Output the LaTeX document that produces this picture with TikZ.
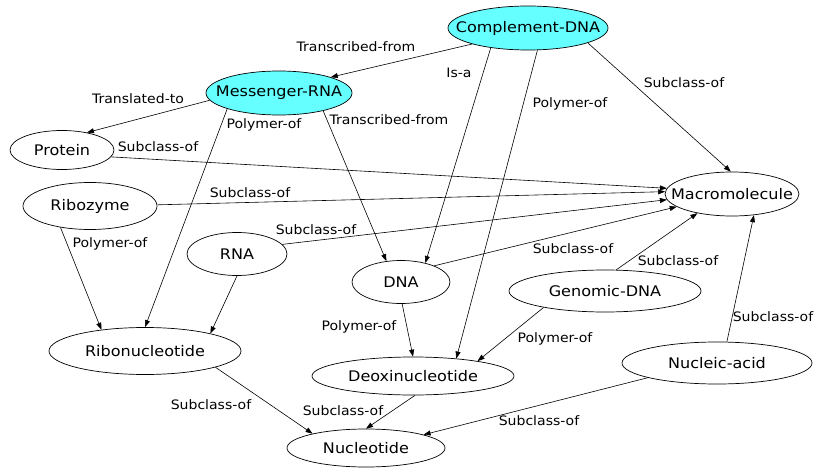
\documentclass[tikz,border=0pt]{standalone}
\usepackage{fontspec}
\setmainfont{DejaVu Sans}
\newfontfamily\conceptfont[FakeStretch=1.1]{DejaVu Sans}
\newfontfamily\relfont[FakeStretch=1.08]{DejaVu Sans}
\usepackage{xcolor}
\usetikzlibrary{arrows.meta}
\usetikzlibrary{shapes.geometric}
\definecolor{mycyan}{RGB}{102,255,255}
% text of a concept takes no width, so the ellipse keeps its given size
\newcommand{\cname}[1]{\makebox[0pt]{#1}}

\begin{document}
\begin{tikzpicture}[x=1pt, y=-1pt,
  concept/.style={draw, ellipse, line width=0.7pt, inner sep=0pt, font=\conceptfont\fontsize{14.6}{18}\selectfont},
  seed/.style={concept, fill=mycyan},
  rel/.style={line width=0.6pt, -{Triangle[length=7pt,width=5pt]}},
  lbl/.style={inner sep=0pt, font=\relfont\fontsize{13}{16}\selectfont}]
\useasboundingbox (0,0) rectangle (814,468);

% concepts
\node[seed, minimum width=160, minimum height=44] (cdna) at (528,28) {\cname{Complement-DNA}};
\node[seed, minimum width=146, minimum height=44] (mrna) at (279,93) {\cname{Messenger-RNA}};
\node[concept, minimum width=104, minimum height=39] (protein) at (62,150) {\cname{Protein}};
\node[concept, minimum width=134, minimum height=47] (ribozyme) at (90,206) {\cname{Ribozyme}};
\node[concept, minimum width=134, minimum height=44] (macro) at (732,194) {\cname{Macromolecule}};
\node[concept, minimum width=100, minimum height=43] (rna) at (237,254) {\cname{RNA}};
\node[concept, minimum width=98, minimum height=43] (dna) at (401,282) {\cname{DNA}};
\node[concept, minimum width=192, minimum height=42] (gdna) at (605,291) {\cname{Genomic-DNA}};
\node[concept, minimum width=192, minimum height=47] (ribonuc) at (145,351) {\cname{Ribonucleotide}};
\node[concept, minimum width=202, minimum height=38] (deoxnuc) at (413,376) {\cname{Deoxinucleotide}};
\node[concept, minimum width=190, minimum height=42] (nacid) at (717,363) {\cname{Nucleic-acid}};
\node[concept, minimum width=158, minimum height=38] (nucleotide) at (366,448) {\cname{Nucleotide}};

% relations
\foreach \a/\s/\b/\e in {cdna/196/mrna/17, cdna/208/dna/38, cdna/293/deoxnuc/22,
    cdna/346/macro/93, mrna/186/protein/35, mrna/197/ribonuc/90, mrna/338/dna/125,
    protein/352/macro/175, ribozyme/1/macro/178, ribozyme/216/ribonuc/154,
    rna/12/macro/185, rna/270/ribonuc/15, dna/26/macro/193, dna/273/deoxnuc/90,
    gdna/62/macro/209, gdna/195/deoxnuc/13, nacid/65/macro/316,
    nacid/192/nucleotide/13, ribonuc/347/nucleotide/165, deoxnuc/276/nucleotide/90}{
\draw[rel] (\a.\s) -- (\b.\e);
}

% relation labels
\foreach \n/\x/\y/\t in {tfrom1/356/47/Transcribed-from, isa/459/73/Is-a,
    polyof1/570/104/Polymer-of, subof1/684/83/Subclass-of,
    transto/138/99/Translated-to, polyof2/264/125/Polymer-of,
    tfrom2/389/120/Transcribed-from, subof2/158/147/Subclass-of,
    subof3/250/193/Subclass-of, subof4/316/230/Subclass-of,
    polyof3/110/244/Polymer-of, subof5/573/249/Subclass-of,
    subof6/678/261/Subclass-of, subof7/773/317/Subclass-of,
    polyof4/359/327/Polymer-of, polyof5/555/339/Polymer-of,
    subof8/211/405/Subclass-of, subof9/343/411/Subclass-of,
    subof10/539/421/Subclass-of}{
\node[lbl] (\n) at (\x,\y) {\t};
}
\end{tikzpicture}
\end{document}
